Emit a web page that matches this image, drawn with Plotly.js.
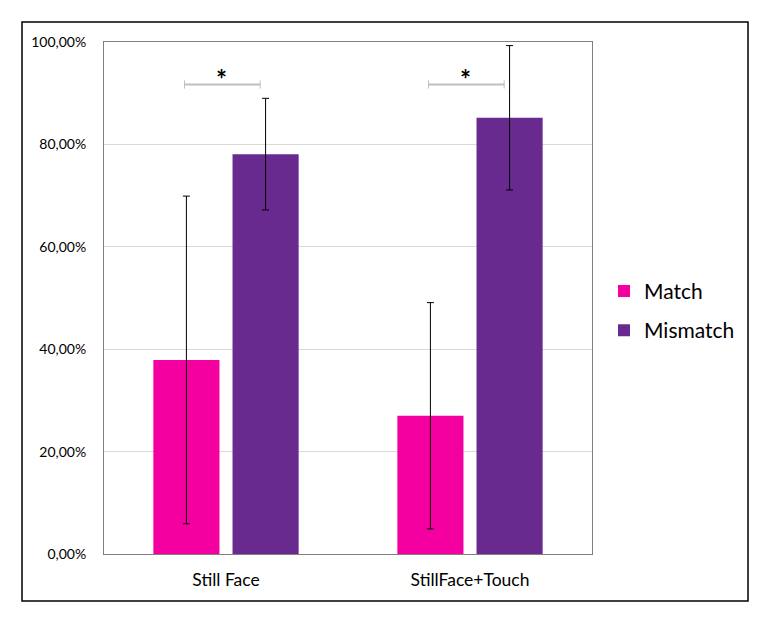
<!DOCTYPE html>
<html>
<head>
<meta charset="utf-8">
<script src="https://cdn.plot.ly/plotly-3.0.1.min.js"></script>
<style>
  html, body { margin: 0; padding: 0; background: #fff; }
  #chart { width: 768px; height: 628px; }
</style>
</head>
<body>
<div id="chart"></div>
<script>
// Match vs Mismatch share per condition, with error bars and significance marks.
const conditions = ["Still Face", "StillFace+Touch"];
const matchValues = [0.379, 0.27];
const matchErrors = [0.32, 0.221];
const mismatchValues = [0.781, 0.852];
const mismatchErrors = [0.109, 0.141];
// one bracket per condition (Match vs Mismatch), drawn at this level
const sigLevels = [0.917, 0.917];
const sigLabels = ["*", "*"];

const MATCH_COLOR = "#F400A1";
const MISMATCH_COLOR = "#682A8F";
const FONT = "Lato, 'Open Sans', sans-serif";

function barTrace(name, y, err, color) {
  return {
    type: "bar",
    name,
    legendgroup: name,
    x: conditions,
    y,
    marker: { color },
    error_y: { type: "data", array: err, visible: true, color: "#000", thickness: 1, width: 3.5 },
    hoverinfo: "none",
  };
}

const traces = [
  barTrace("Match", matchValues, matchErrors, MATCH_COLOR),
  barTrace("Mismatch", mismatchValues, mismatchErrors, MISMATCH_COLOR),
];

// significance brackets: grey line with small end ticks, bold asterisk on top
const shapes = [];
const annotations = [];
const BR_L = -0.17, BR_R = 0.14, TICK = 0.008;
sigLevels.forEach((lvl, i) => {
  const line = { color: "#BFBFBF", width: 2 };
  shapes.push({ type: "line", xref: "x", yref: "y", x0: i + BR_L, x1: i + BR_R, y0: lvl, y1: lvl, line });
  shapes.push({ type: "line", xref: "x", yref: "y", x0: i + BR_L, x1: i + BR_L, y0: lvl - TICK, y1: lvl + TICK, line: { color: "#BFBFBF", width: 1 } });
  shapes.push({ type: "line", xref: "x", yref: "y", x0: i + BR_R, x1: i + BR_R, y0: lvl - TICK, y1: lvl + TICK, line: { color: "#BFBFBF", width: 1 } });
  annotations.push({
    xref: "x", yref: "y", x: i - 0.02, y: lvl,
    xanchor: "center", yanchor: "bottom",
    text: "<b>" + sigLabels[i] + "</b>", showarrow: false,
    font: { family: FONT, size: 26, color: "#000" },
    yshift: -12,
  });
});

// outer chart frame
shapes.push({
  type: "rect", xref: "paper", yref: "paper",
  x0: -0.168, x1: 1.3197, y0: -0.0918, y1: 1.039,
  line: { color: "#000", width: 1.5 }, fillcolor: "rgba(0,0,0,0)", layer: "below",
});

const layout = {
  width: 768,
  height: 628,
  margin: { l: 104, r: 176, t: 42, b: 74 },
  paper_bgcolor: "#fff",
  plot_bgcolor: "#fff",
  separators: ",.",
  font: { family: FONT, color: "#000" },
  barmode: "group",
  bargap: 0.351,
  bargroupgap: 0.165,
  showlegend: true,
  legend: {
    x: 1.0246, y: 0.475, xanchor: "left", yanchor: "middle",
    font: { family: FONT, size: 21, color: "#000" },
    itemwidth: 30,
    traceorder: "grouped",
    tracegroupgap: 9,
  },
  xaxis: {
    type: "category",
    showline: true, mirror: true, linecolor: "#808080", linewidth: 1,
    ticks: "", showgrid: false,
    tickfont: { family: FONT, size: 17.5, color: "#000" },
    ticklabelstandoff: 10,
    fixedrange: true,
  },
  yaxis: {
    range: [0, 1],
    tickvals: [0, 0.2, 0.4, 0.6, 0.8, 1],
    tickformat: ".2%",
    showline: true, mirror: true, linecolor: "#808080", linewidth: 1,
    showgrid: true, gridcolor: "#D9D9D9", gridwidth: 1,
    zeroline: false,
    ticks: "",
    tickfont: { family: FONT, size: 14, color: "#000" },
    ticklabelstandoff: 14,
    fixedrange: true,
  },
  shapes,
  annotations,
};

Plotly.newPlot("chart", traces, layout, { displayModeBar: false, staticPlot: true });
</script>
</body>
</html>
